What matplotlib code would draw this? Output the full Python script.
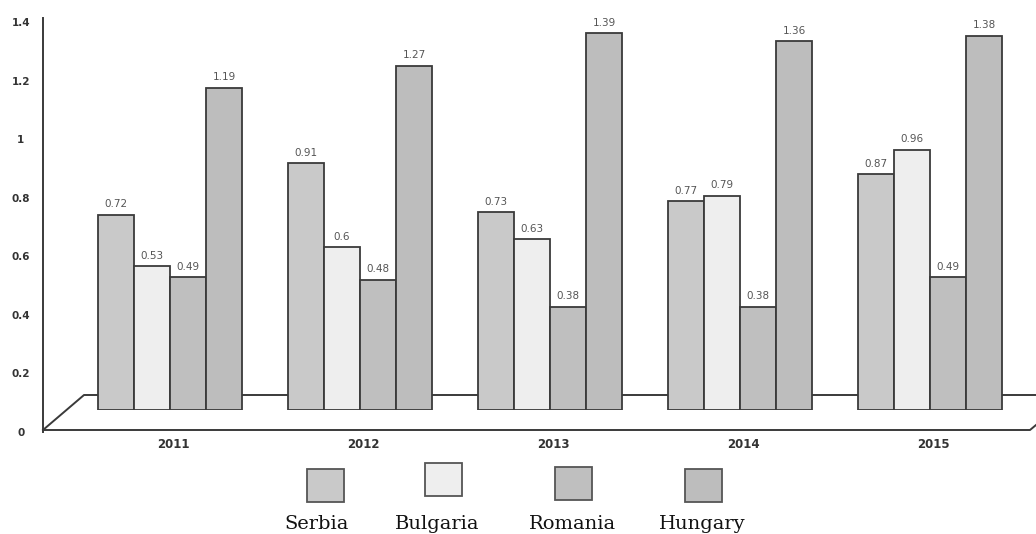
import matplotlib
matplotlib.use("Agg")
import matplotlib.pyplot as plt
from matplotlib.patches import Rectangle

years = ["2011", "2012", "2013", "2014", "2015"]
countries = ["Serbia", "Bulgaria", "Romania", "Hungary"]
serbia = [0.72, 0.91, 0.73, 0.77, 0.87]
bulgaria = [0.53, 0.6, 0.63, 0.79, 0.96]
romania = [0.49, 0.48, 0.38, 0.38, 0.49]
hungary = [1.19, 1.27, 1.39, 1.36, 1.38]
yticks = [0, 0.2, 0.4, 0.6, 0.8, 1, 1.2, 1.4]
ytick_labels = ["0", "0.2", "0.4", "0.6", "0.8", "1", "1.2", "1.4"]

series = [serbia, bulgaria, romania, hungary]
fills = ["#c9c9c9", "#eeeeee", "#bfbfbf", "#bdbdbd"]
edge = "#3a3a3a"

W, H = 1036, 534
fig = plt.figure(figsize=(W / 100, H / 100), dpi=100)

# pixel-space layer for the floor and the legend
deco = fig.add_axes([0, 0, 1, 1])
deco.set_xlim(0, W)
deco.set_ylim(H, 0)
deco.axis("off")
deco.plot([43, 1030, 1036], [430, 430, 425], color=edge, lw=1.4)
deco.plot([43, 84, W], [430, 395, 395], color=edge, lw=1.4)
deco.plot([43, 43], [432, 18], color=edge, lw=1.4)

# value axis on the left
ay = fig.add_axes([43 / W, (H - 432) / H, 0.5, 410 / H])
ay.patch.set_alpha(0)
ay.set_ylim(0, 1.4)
ay.set_xticks([])
for s in ["top", "right", "bottom", "left"]:
    ay.spines[s].set_visible(False)
ay.set_yticks(yticks)
ay.set_yticklabels(ytick_labels)
ay.tick_params(axis="y", length=0, pad=16, labelsize=7.5, labelcolor="#333333")
for t in ay.get_yticklabels():
    t.set_horizontalalignment("center")
    t.set_fontweight("bold")

# bars
ax = fig.add_axes([0, 124 / H, 1, 1.5 * 271 / H])
ax.patch.set_alpha(0)
ax.set_xlim(-170 / 190, (W - 170) / 190)
ax.set_ylim(0, 1.5)
ax.axis("off")

w = 0.19
x = list(range(len(years)))
for k, vals in enumerate(series):
    pos = [i + (k - 1.5) * w for i in x]
    ax.bar(pos, vals, width=w, color=fills[k], edgecolor=edge, linewidth=1.3)
    for p, v in zip(pos, vals):
        ax.annotate(f"{v:g}", xy=(p, v), xytext=(0, 4), textcoords="offset points",
                    ha="center", va="bottom", fontsize=7.5, color="#555555")

for i, yr in zip(x, years):
    ax.annotate(yr, xy=(i + 0.02, H - 444), xycoords=("data", "figure pixels"),
                ha="center", va="center", fontsize=8.5, fontweight="bold", color="#333333")

# legend: swatch with the name underneath
swatches = [(307, 469), (425, 463), (555, 467), (685, 469)]
name_x = [317, 437, 572, 702]
for (sx, sy), nx, name, fc in zip(swatches, name_x, countries, fills):
    deco.add_patch(Rectangle((sx, sy), 37, 33, facecolor=fc, edgecolor="#555555", lw=1.3))
    deco.text(nx, 524, name, ha="center", va="center", fontsize=14,
              family="DejaVu Serif", color="#111111")

fig.savefig("out.png", dpi=100)
